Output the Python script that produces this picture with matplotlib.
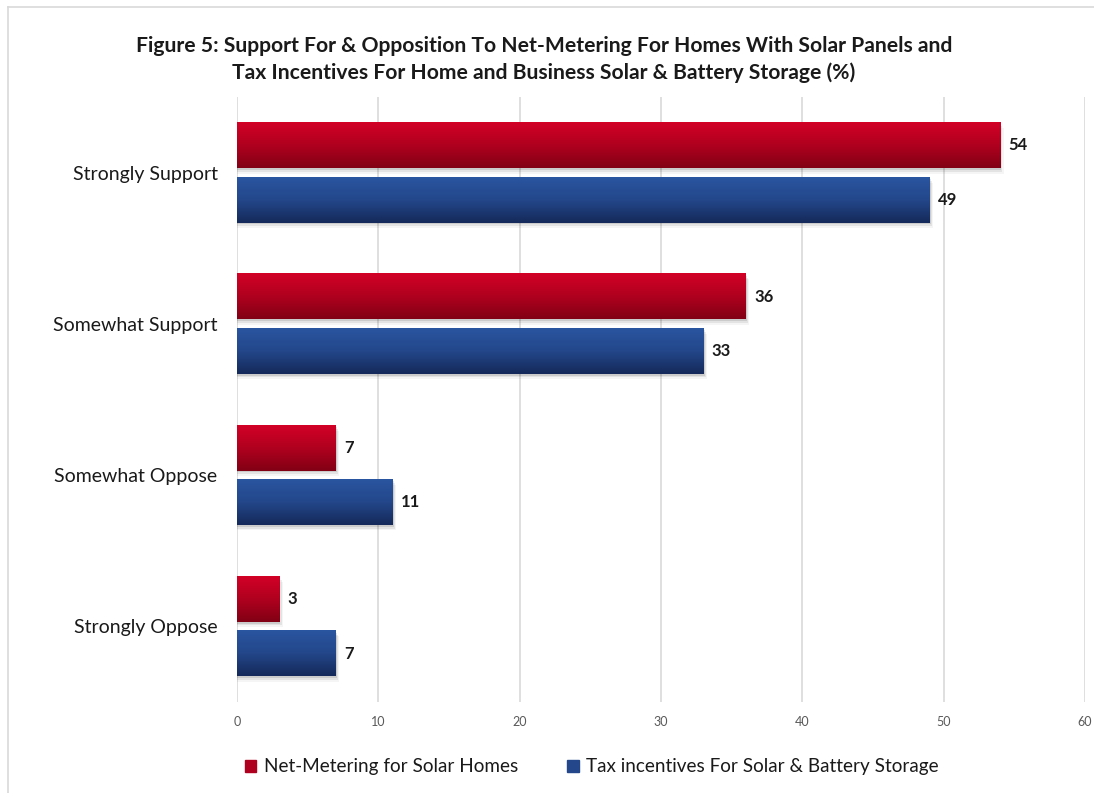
import numpy as np
import matplotlib
matplotlib.use("Agg")
import matplotlib.pyplot as plt
from matplotlib.lines import Line2D
from matplotlib.patches import Rectangle
from matplotlib.colors import LinearSegmentedColormap

plt.rcParams['font.family'] = ['Lato', 'DejaVu Sans']

categories = ["Strongly Support", "Somewhat Support", "Somewhat Oppose", "Strongly Oppose"]
net_metering = [54, 36, 7, 3]
tax_incentives = [49, 33, 11, 7]
series_names = ["Net-Metering for Solar Homes", "Tax incentives For Solar & Battery Storage"]
title = ("Figure 5: Support For & Opposition To Net-Metering For Homes With Solar Panels and\n"
         "Tax Incentives For Home and Business Solar & Battery Storage (%)")

red_cmap = LinearSegmentedColormap.from_list("red", ["#d20026", "#b0001f", "#820014"])
blue_cmap = LinearSegmentedColormap.from_list("blue", ["#2a55a0", "#23478a", "#15295a"])
grad = np.linspace(0, 1, 64).reshape(-1, 1)

fig = plt.figure(figsize=(10.94, 7.93), dpi=100)
ax = fig.add_axes([0.2166, 0.1148, 0.7752, 0.7629])

# figure frame (top and left edges visible)
fig.add_artist(Line2D([0.0073, 1.0], [0.9912, 0.9912], color="#d9d9d9", lw=1.2, transform=fig.transFigure))
fig.add_artist(Line2D([0.0073, 0.0073], [0.0, 0.9912], color="#d9d9d9", lw=1.2, transform=fig.transFigure))

y = np.arange(len(categories))[::-1]
h = 0.30
off = 0.18

def grad_bar(x, yc, cmap):
    y0, y1 = yc - h / 2, yc + h / 2
    # soft shadow below/right
    for k, a in enumerate([0.10, 0.07, 0.04]):
        d = 0.012 * (k + 1)
        ax.add_patch(Rectangle((0, y0 - d), x + 0.08 * (k + 1), h, color="#000000", alpha=a, lw=0, zorder=2))
    ax.imshow(grad, cmap=cmap, aspect="auto", extent=[0, x, y0, y1], origin="upper", zorder=3)

for i, yc in enumerate(y):
    grad_bar(net_metering[i], yc + off, red_cmap)
    grad_bar(tax_incentives[i], yc - off, blue_cmap)
    ax.text(net_metering[i] + 0.6, yc + off, str(net_metering[i]), va="center", ha="left",
            fontsize=12, fontweight="bold", color="#1a1a1a")
    ax.text(tax_incentives[i] + 0.6, yc - off, str(tax_incentives[i]), va="center", ha="left",
            fontsize=12, fontweight="bold", color="#1a1a1a")

ax.set_xlim(0, 60)
ax.set_ylim(-0.5, 3.5)
ax.set_xticks(range(0, 61, 10))
ax.set_yticks(y)
ax.set_yticklabels(categories, fontsize=14, color="#1a1a1a")
ax.tick_params(axis="x", labelsize=9, labelcolor="#595959", length=0, pad=10)
ax.tick_params(axis="y", length=0, pad=14)
ax.grid(axis="x", color="#d9d9d9", lw=1.2, zorder=0)
ax.set_axisbelow(True)
for s in ax.spines.values():
    s.set_visible(False)

fig.text(0.497, 0.925, title, ha="center", va="center", fontsize=15.2, fontweight="bold",
         color="#1a1a1a", linespacing=1.4)

handles = [Rectangle((0, 0), 1, 1, color="#b0001f"), Rectangle((0, 0), 1, 1, color="#23478a")]
fig.legend(handles, series_names, loc="center", bbox_to_anchor=(0.541, 0.033), ncol=2,
           frameon=False, fontsize=13.6, handlelength=0.6, handleheight=0.6, handletextpad=0.4,
           columnspacing=2.6, labelcolor="#1a1a1a")

fig.savefig("out.png", dpi=100)
